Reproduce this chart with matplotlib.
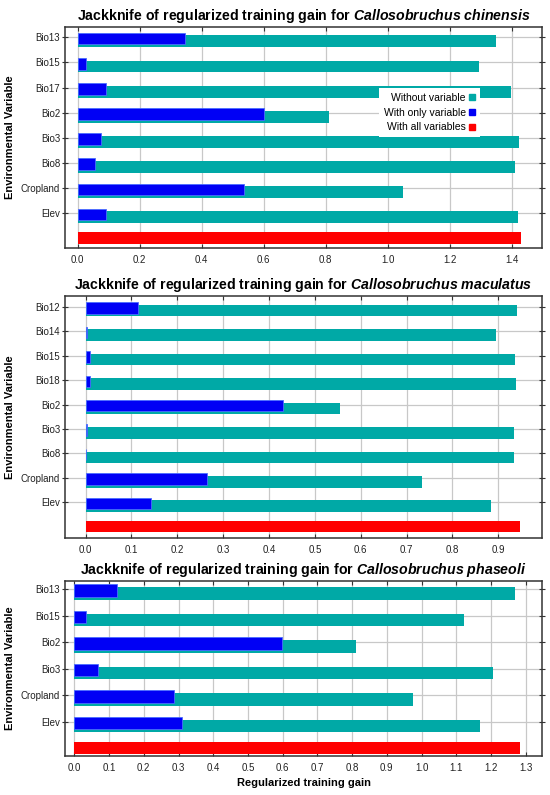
import matplotlib.pyplot as plt
from matplotlib.lines import Line2D

plt.rcParams['font.family'] = ['Liberation Sans', 'DejaVu Sans']
plt.rcParams['mathtext.fontset'] = 'custom'
plt.rcParams['mathtext.bfit'] = 'Liberation Sans:italic:bold'
plt.rcParams['mathtext.rm'] = 'Liberation Sans'
plt.rcParams['mathtext.it'] = 'Liberation Sans:italic'
plt.rcParams['mathtext.bf'] = 'Liberation Sans:bold'

# Callosobruchus chinensis
chin_vars = ["Bio13", "Bio15", "Bio17", "Bio2", "Bio3", "Bio8", "Cropland", "Elev"]
chin_without = [1.349, 1.295, 1.397, 0.810, 1.424, 1.410, 1.050, 1.420]
chin_only = [0.345, 0.027, 0.090, 0.600, 0.074, 0.056, 0.538, 0.091]
chin_all = 1.430

# Callosobruchus maculatus
mac_vars = ["Bio12", "Bio14", "Bio15", "Bio18", "Bio2", "Bio3", "Bio8", "Cropland", "Elev"]
mac_without = [0.940, 0.895, 0.937, 0.938, 0.554, 0.934, 0.934, 0.734, 0.885]
mac_only = [0.115, 0.002, 0.009, 0.009, 0.430, 0.004, 0.001, 0.264, 0.143]
mac_all = 0.947

# Callosobruchus phaseoli
pha_vars = ["Bio13", "Bio15", "Bio2", "Bio3", "Cropland", "Elev"]
pha_without = [1.269, 1.121, 0.811, 1.205, 0.976, 1.168]
pha_only = [0.123, 0.033, 0.599, 0.069, 0.287, 0.309]
pha_all = 1.283

TEAL = '#00a9a6'
BLUE = '#0000f5'
RED = '#ff0000'


def jackknife_panel(ax, species, names, without, only, allv, xlim, ylim, xticks):
    ypos = list(range(len(names)))
    ax.barh([y + 0.16 for y in ypos], without, height=0.47, color=TEAL, zorder=2)
    ax.barh([y + 0.05 for y in ypos], only, height=0.47, color=BLUE,
            edgecolor='#4a6cff', linewidth=0.6, zorder=3)
    ax.barh([len(names) - 0.02], [allv], height=0.47, color=RED, zorder=3)

    ax.set_yticks(ypos)
    ax.set_yticklabels(names)
    ax.set_xticks(xticks)
    ax.set_xticklabels(["%.1f" % t for t in xticks])
    ax.set_xlim(*xlim)
    ax.set_ylim(*ylim)

    ax.grid(True, color='#c8c8c8', linewidth=0.9, zorder=0)
    ax.set_axisbelow(True)
    ax.tick_params(axis='both', labelsize=7, colors='#333333', labelcolor='#222222')
    ax.tick_params(axis='y', left=True, right=True, direction='inout', length=5, pad=1)
    ax.tick_params(axis='x', top=True, bottom=True, direction='in', length=3, pad=5)
    for s in ax.spines.values():
        s.set_color('#333333')
        s.set_linewidth(1.1)

    ax.set_title(r"Jackknife of regularized training gain for $\mathbfit{" +
                 species.replace(" ", r"\ ") + "}$",
                 fontsize=10.2, fontweight='bold', pad=5)
    ax.set_ylabel("Environmental Variable", fontsize=8, fontweight='bold')
    ax.yaxis.set_label_coords(-0.105, 0.5)


fig = plt.figure(figsize=(5.5, 7.95), dpi=100)
ax1 = fig.add_axes([0.1182, 0.6884, 0.8678, 0.2776])
ax2 = fig.add_axes([0.1182, 0.3236, 0.8678, 0.3044])
ax3 = fig.add_axes([0.1182, 0.0491, 0.8678, 0.2201])

jackknife_panel(ax1, "Callosobruchus chinensis", chin_vars, chin_without, chin_only, chin_all,
                (-0.041, 1.499), (8.37, -0.41), [0.0, 0.2, 0.4, 0.6, 0.8, 1.0, 1.2, 1.4])
jackknife_panel(ax2, "Callosobruchus maculatus", mac_vars, mac_without, mac_only, mac_all,
                (-0.045, 0.996), (9.45, -0.45), [i / 10 for i in range(10)])
jackknife_panel(ax3, "Callosobruchus phaseoli", pha_vars, pha_without, pha_only, pha_all,
                (-0.027, 1.348), (6.29, -0.31), [i / 10 for i in range(14)])
ax3.set_xlabel("Regularized training gain", fontsize=8, fontweight='bold', labelpad=4)

handles = [Line2D([], [], marker='s', linestyle='none', color=c, markersize=4)
           for c in (TEAL, BLUE, RED)]
leg = ax1.legend(handles, ["Without variable", "With only variable", "With all variables"],
                 loc='upper right', bbox_to_anchor=(0.869, 0.724), markerfirst=False,
                 fontsize=7.5, frameon=True, fancybox=False, framealpha=1,
                 edgecolor='none', facecolor='white', handlelength=0.5,
                 handletextpad=0.4, labelspacing=0.47, borderpad=0.45, borderaxespad=0)
leg.set_zorder(5)

plt.savefig("out.png", dpi=100)
plt.close()
